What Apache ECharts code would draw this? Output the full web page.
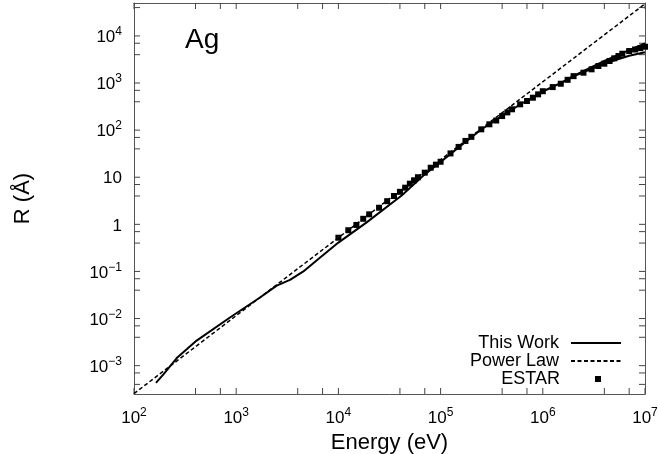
<!DOCTYPE html>
<html><head><meta charset="utf-8">
<script src="https://cdn.jsdelivr.net/npm/echarts@6/dist/echarts.min.js"></script>
<style>html,body{margin:0;padding:0;background:#fff}#c{width:658px;height:454px}</style>
</head><body><div id="c"></div>
<script>
// ---- data ----
const thisWorkE = [164, 194, 262, 410, 869, 1710, 2490, 3360, 4540, 6500, 1e4, 1.89e4, 4.16e4, 7e4, 1e5, 1.5e5, 2.5e5, 4e5, 6e5, 1e6, 1.5e6, 2e6, 4e6, 7e6, 1e7];
const thisWorkR = [4.3e-4, 6.5e-4, 1.45e-3, 3.4e-3, 0.0105, 0.028, 0.050, 0.066, 0.10, 0.19, 0.41, 1.10, 4.1, 11.5, 21, 43, 103, 200, 350, 660, 1000, 1420, 2950, 5000, 6900];
const thisWorkLowE = [1.5e6, 2e6, 4e6, 7e6, 1e7];
const thisWorkLowR = [1000, 1380, 2600, 3800, 4500];
const powerLawE = [100, 1e7];
const powerLawR = [2.55e-4, 4.8e4];
const estarE = [1e4, 1.25e4, 1.5e4, 1.75e4, 2e4, 2.5e4, 3e4, 3.5e4, 4e4, 4.5e4, 5e4, 5.5e4, 6e4, 7e4, 8e4, 9e4,
  1e5, 1.25e5, 1.5e5, 1.75e5, 2e5, 2.5e5, 3e5, 3.5e5, 4e5, 4.5e5, 5e5, 6e5, 7e5, 8e5, 9e5,
  1e6, 1.25e6, 1.5e6, 1.75e6, 2e6, 2.5e6, 3e6, 3.5e6, 4e6, 4.5e6, 5e6, 5.5e6, 6e6, 7e6, 8e6, 9e6, 1e7];
const estarR = [0.52, 0.75, 0.97, 1.31, 1.63, 2.25, 3.1, 4.0, 4.9, 6.0, 7.3, 8.6, 10.0, 12.5, 15.9, 18.5,
  21.3, 32, 44, 59, 72, 104, 133, 160, 199, 238, 277, 353, 415, 488, 575,
  670, 820, 966, 1170, 1400, 1656, 1954, 2296, 2572, 2932, 3344, 3740, 4188, 4774, 5150, 5500, 5900];
const xLabelValues = [1e2, 1e3, 1e4, 1e5, 1e6, 1e7];
const yLabelValues = [1e-3, 1e-2, 1e-1, 1, 10, 1e2, 1e3, 1e4];
const xTickValues = [100, 400, 700, 1e3, 4e3, 7e3, 1e4, 4e4, 7e4, 1e5, 4e5, 7e5, 1e6, 4e6, 7e6, 1e7];
const yTickValues = [4e-4, 7e-4, 1e-3, 4e-3, 7e-3, 1e-2, 4e-2, 7e-2, 0.1, 0.4, 0.7, 1, 4, 7, 10, 40, 70, 100, 400, 700, 1e3, 4e3, 7e3, 1e4, 4e4];
const xRange = [100, 1e7];
const yRange = [2.5e-4, 5e4];
const legendNames = ['This Work', 'Power Law', 'ESTAR'];

const F = '"Liberation Sans", Arial, Helvetica, sans-serif';
const zip = (a, b) => a.map((v, i) => [v, b[i]]);
const TICK = 6, TICK_COLOR = '#444';

function fmt(v) {
  const e = Math.round(Math.log10(v));
  if (e === 0) return '{b|1}';
  if (e === 1) return '{b|10}';
  return '{b|10}{s|' + String(e).replace('-', '\u2212') + '}';
}
const rich = {
  b: { fontSize: 17, fontFamily: F, color: '#000', lineHeight: 20, verticalAlign: 'bottom' },
  s: { fontSize: 12, fontFamily: F, color: '#000', lineHeight: 10, verticalAlign: 'top' }
};

function xAx(pos, main) {
  return {
    type: 'log', logBase: 10, min: xRange[0], max: xRange[1], position: pos,
    axisTick: { show: false },
    axisLabel: main ? { show: true, customValues: xLabelValues, formatter: fmt, rich: rich, margin: 13 } : { show: false },
    splitLine: { show: false },
    name: main ? 'Energy (eV)' : '', nameLocation: 'middle', nameGap: 32,
    nameTextStyle: { fontSize: 22, fontFamily: F, color: '#000' }
  };
}
function yAx(pos, main) {
  return {
    type: 'log', logBase: 10, min: yRange[0], max: yRange[1], position: pos,
    axisTick: { show: false },
    axisLabel: main ? { show: true, customValues: yLabelValues, formatter: fmt, rich: rich, margin: 12 } : { show: false },
    splitLine: { show: false },
    name: main ? 'R (\u00C5)' : '', nameLocation: 'middle', nameGap: 100,
    nameTextStyle: { fontSize: 22, fontFamily: F, color: '#000' }
  };
}
const tickLine = (x1, y1, x2, y2) => ({ type: 'line', shape: { x1, y1, x2, y2 }, style: { stroke: TICK_COLOR, lineWidth: 1 } });

const chart = echarts.init(document.getElementById('c'), null, { renderer: 'canvas' });
chart.setOption({
  animation: false,
  backgroundColor: '#fff',
  title: { text: 'Ag', left: 185, top: 26, padding: 0, textStyle: { fontSize: 28, fontWeight: 'normal', fontFamily: F, color: '#000' } },
  grid: { left: 134, right: 13, top: 3, bottom: 60, containLabel: false, outerBoundsMode: 'none' },
  xAxis: [xAx('bottom', true), xAx('top', false)],
  yAxis: [yAx('left', true), yAx('right', false)],
  legend: [
    { data: [legendNames[0]], orient: 'vertical', align: 'right', right: 36, top: 334, padding: 0, itemWidth: 50, itemHeight: 14, selectedMode: false,
      itemStyle: { opacity: 0 }, textStyle: { fontSize: 18, fontFamily: F, color: '#000', padding: [0, 7, 0, 0] } },
    { data: [legendNames[1]], orient: 'vertical', align: 'right', right: 36, top: 352, padding: 0, itemWidth: 50, itemHeight: 14, selectedMode: false,
      itemStyle: { opacity: 0 }, textStyle: { fontSize: 18, fontFamily: F, color: '#000', padding: [0, 7, 0, 0] } },
    { data: [{ name: legendNames[2], icon: 'rect' }], orient: 'vertical', align: 'right', right: 57, top: 370, padding: 0, itemWidth: 6, itemHeight: 6, selectedMode: false,
      textStyle: { fontSize: 18, fontFamily: F, color: '#000', padding: [0, 30, 0, 0] } }
  ],
  series: [
    { type: 'custom', silent: true, z: 1, data: xTickValues.map(v => [v, yRange[0]]),
      renderItem: (p, api) => {
        const a = api.coord([api.value(0), yRange[0]]), b = api.coord([api.value(0), yRange[1]]);
        return { type: 'group', children: [tickLine(a[0], a[1], a[0], a[1] - TICK), tickLine(b[0], b[1], b[0], b[1] + TICK)] };
      } },
    { type: 'custom', silent: true, z: 1, data: yTickValues.map(v => [xRange[0], v]),
      renderItem: (p, api) => {
        const a = api.coord([xRange[0], api.value(1)]), b = api.coord([xRange[1], api.value(1)]);
        return { type: 'group', children: [tickLine(a[0], a[1], a[0] + TICK, a[1]), tickLine(b[0], b[1], b[0] - TICK, b[1])] };
      } },
    { name: legendNames[0], type: 'line', data: zip(thisWorkE, thisWorkR), symbol: 'none',
      lineStyle: { color: '#000', width: 2 }, itemStyle: { color: '#000' }, z: 3 },
    { name: legendNames[0], type: 'line', data: zip(thisWorkLowE, thisWorkLowR), symbol: 'none',
      lineStyle: { color: '#000', width: 2 }, itemStyle: { color: '#000' }, z: 3 },
    { name: legendNames[1], type: 'line', data: zip(powerLawE, powerLawR), symbol: 'none',
      lineStyle: { color: '#000', width: 1.5, type: [4, 2.5] }, itemStyle: { color: '#000' }, z: 2 },
    { name: legendNames[2], type: 'scatter', data: zip(estarE, estarR), symbol: 'rect', symbolSize: 6,
      itemStyle: { color: '#000', opacity: 1 }, z: 4 }
  ]
});
</script></body></html>
